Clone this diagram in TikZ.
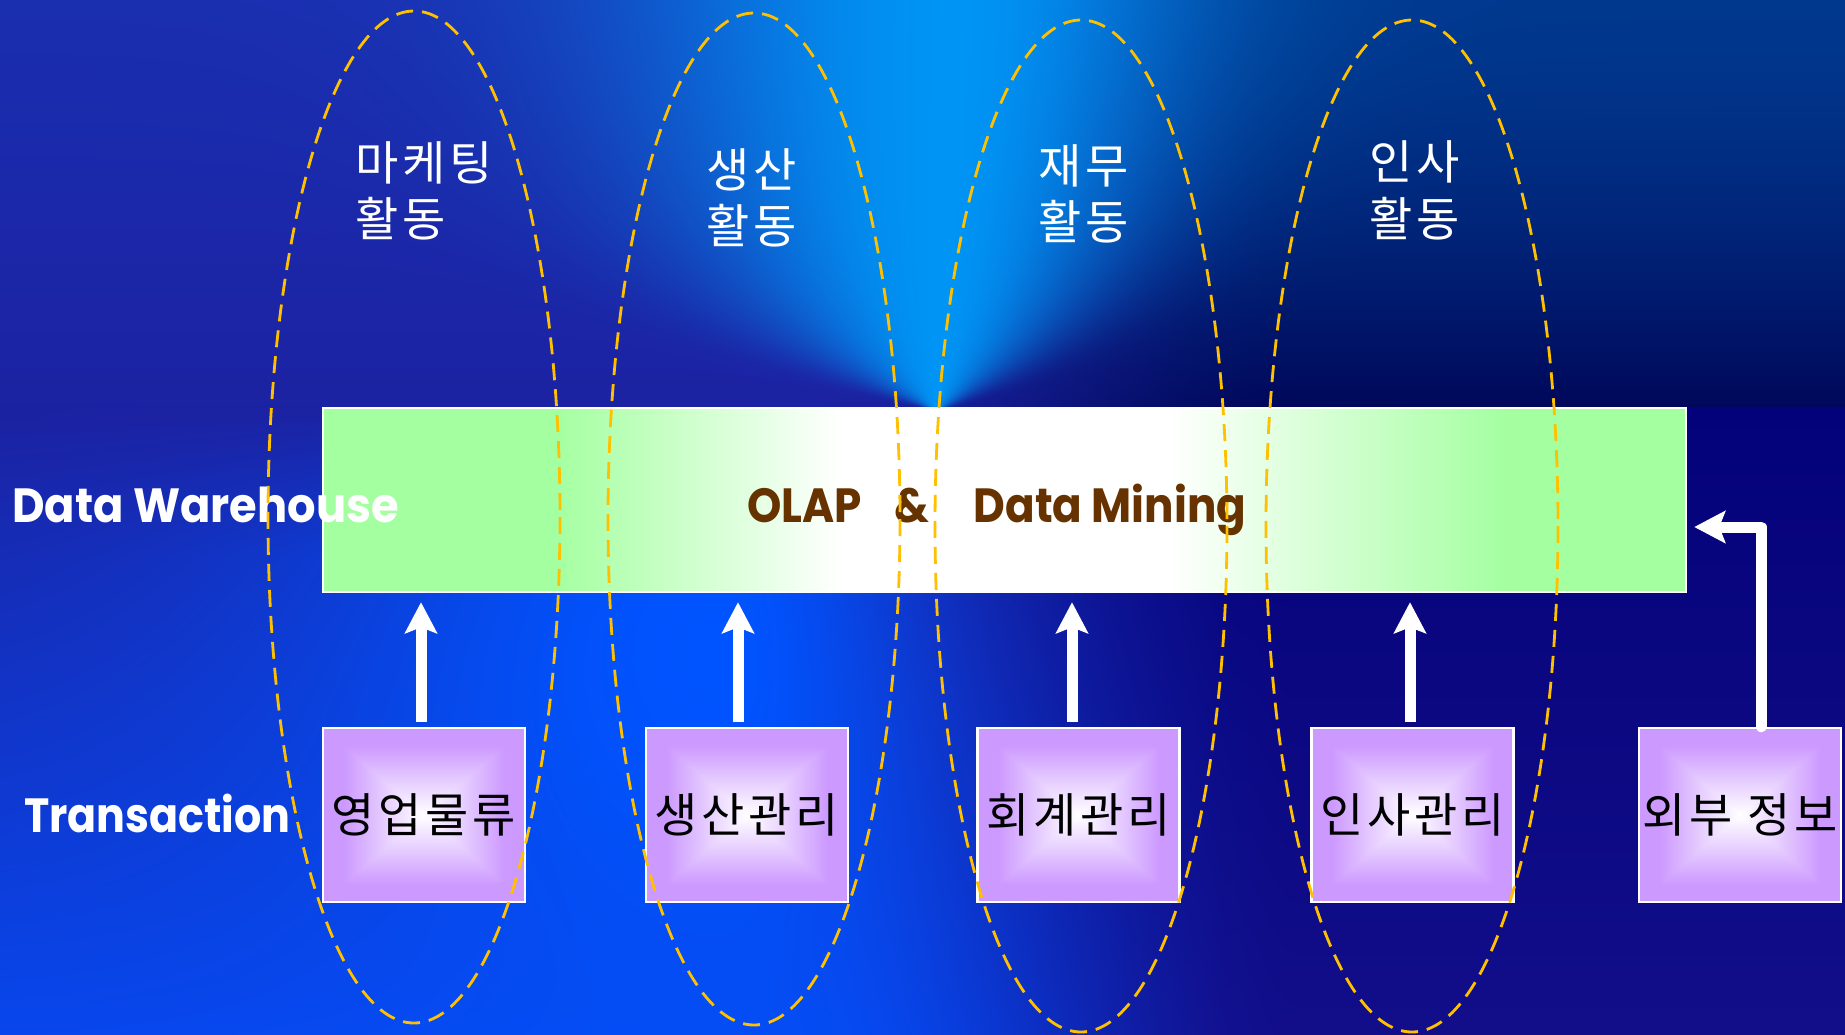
\documentclass[tikz,border=0pt]{standalone}
\usepackage{fontspec}
\usetikzlibrary{arrows.meta}
\newfontfamily\krfont{Noto Sans CJK KR}[LetterSpace=8]
\newfontfamily\gofont{Poppins}[FakeStretch=0.91]
\definecolor{barG}{HTML}{A4FFA0}
\definecolor{gold}{HTML}{FFC000}
\definecolor{brownT}{HTML}{663300}

% ---- PostScript helpers for the background function (note trailing spaces) ----
\def\pszc{dup 1 sub abs neg add 1 add 2 div dup abs add 2 div }
\def\pssm{dup dup mul exch 2 mul 3 exch sub mul }
% #1 L0 #2 L1 #3 L2 #4 R0 #5 R1 #6 R1b #7 R2 #8 spot #9 cone
\def\pschan#1#2#3#4#5#6#7#8#9{ dup 420 div \pszc #2 #1 sub mul #1 add 1 index 420 sub 614 div \pszc #3 #2 sub mul add 1 index 406 div \pszc 1.5 exp #5 #4 sub mul #4 add 2 index 406 sub 628 div \pszc #7 #6 sub mul #6 add 1 index sub 3 index 406 sub \pszc mul add 1 index sub 3 index 820 sub 480 div \pszc \pssm mul add #8 1 index sub 3 index 720 sub dup dup abs 0.01 add div -85 mul 215 add div dup mul 3 index 650 sub 320 div dup mul add -0.5 mul 2.71828 exch exp 3 index 406 sub 150 div \pszc mul mul add #9 1 index sub 2 index 406 exch sub dup dup abs add 2 div 140 div neg 2.71828 exch exp 1 exch sub 5 index 935 sub 2 index 0.05 mul sub dup dup abs 0.01 add div -32.5 mul 202.5 add 3 -1 roll mul 8 add div dup mul -0.5 mul 2.71828 exch exp exch 5 div 1 add \pszc mul mul add 255 div 3 1 roll pop pop }

\pgfdeclarefunctionalshading{bgfun}{\pgfpoint{-50bp}{-50bp}}{\pgfpoint{50bp}{50bp}}{}{ exch 25 add 36.9 mul exch 25 exch sub 20.68 mul 2 copy \pschan{26}{27}{8}{0}{0}{4}{18}{0}{0} 2 index 2 index \pschan{46}{34}{70}{56}{8}{2}{14}{84}{148} 3 index 3 index \pschan{176}{162}{236}{142}{90}{122}{138}{255}{244} 5 3 roll pop pop }

\pgfdeclarehorizontalshading{barsh}{100bp}{color(0bp)=(barG); color(25bp)=(barG); color(33.5bp)=(barG); color(44bp)=(white); color(56bp)=(white); color(68.5bp)=(barG); color(75bp)=(barG); color(100bp)=(barG)}
\pgfdeclarefunctionalshading{boxsh}{\pgfpoint{-50bp}{-50bp}}{\pgfpoint{50bp}{50bp}}{}{abs exch abs 2 copy sub abs add add 2 div 20 div dup 1 sub abs neg add 1 add 2 div dup 0.2 mul 1 exch sub exch 0.4 mul 1 exch sub 1}

\tikzset{
  x=1pt, y=-1pt,
  barbox/.style={draw=white, line width=2.5pt, shade, shading=barsh, minimum width=1363pt, minimum height=184pt, inner sep=0pt},
  txbox/.style={draw=white, line width=2.5pt, shade, shading=boxsh, minimum width=202pt, minimum height=174pt, inner sep=0pt},
  krlabel/.style={font=\krfont\fontsize{47}{56}\selectfont, text=black, inner sep=0pt},
  toplabel/.style={font=\krfont\fontsize{47}{56}\selectfont, text=white, inner sep=0pt, anchor=west},
  bigbold/.style={font=\gofont\bfseries\fontsize{48}{56}\selectfont, inner sep=0pt, anchor=base west},
  uparrow/.style={draw=white, line width=11pt, -{Stealth[length=31pt, width=32pt, inset=6pt]}},
  activity/.style={draw=gold, line width=2.8pt, dash pattern=on 17pt off 9pt},
}

\begin{document}
\begin{tikzpicture}
\useasboundingbox (0,0) rectangle (1845,1034);
% ---------- background ----------
\shade[shading=bgfun] (0,0) rectangle (1845,1034);

% ---------- data warehouse bar ----------
\node[barbox] (bar) at (1004.5,500) {};

% ---------- transaction boxes ----------
\node[txbox] (b1) at (424,815) {};
\node[txbox] (b2) at (747,815) {};
\node[txbox] (b3) at (1078.5,815) {};
\node[txbox] (b4) at (1412.5,815) {};
\node[txbox] (b5) at (1740,815) {};

\node[krlabel] (l1) at (b1) {영업물류};
\node[krlabel] (l2) at (b2) {생산관리};
\node[krlabel] (l3) at (b3) {회계관리};
\node[krlabel] (l4) at (b4) {인사관리};
\node[krlabel] (l5) at (b5) {외부 정보};

% ---------- arrows ----------
\draw[uparrow] ([xshift=-3pt,yshift=5pt]b1.north) -- ([xshift=-3pt,yshift=-9pt]b1.north |- bar.south);
\draw[uparrow] ([xshift=-9pt,yshift=5pt]b2.north) -- ([xshift=-9pt,yshift=-9pt]b2.north |- bar.south);
\draw[uparrow] ([xshift=-6.5pt,yshift=5pt]b3.north) -- ([xshift=-6.5pt,yshift=-9pt]b3.north |- bar.south);
\draw[uparrow] ([xshift=-2.5pt,yshift=5pt]b4.north) -- ([xshift=-2.5pt,yshift=-9pt]b4.north |- bar.south);
\draw[uparrow, line cap=round, line join=round] ([xshift=21pt]b5.north) |- ([xshift=7pt,yshift=-27pt]bar.east);

% ---------- texts ----------
\node[bigbold, text=white] (dw) at (12,522) {\scalebox{1.025}[1]{Data Warehouse}};
\node[bigbold, text=brownT] (olap) at (747,522) {OLAP\hspace{33pt}\&\hspace{44pt}Data Mining};
\node[bigbold, text=white] (tr) at (24,832) {\scalebox{0.98}[1]{Transaction}};

\node[toplabel] (m1) at (355,162.5) {마케팅};
\node[toplabel] (m2) at (355,219) {활동};
\node[toplabel] (p1) at (706,170) {생산};
\node[toplabel] (p2) at (706,225.5) {활동};
\node[toplabel] (f1) at (1038,166) {재무};
\node[toplabel] (f2) at (1038,222) {활동};
\node[toplabel] (h1) at (1369,162) {인사};
\node[toplabel] (h2) at (1369,219) {활동};

% ---------- activity ellipses ----------
\draw[activity] (414,517) ellipse [x radius=146, y radius=506];
\draw[activity] (754,519) ellipse [x radius=146, y radius=506];
\draw[activity] (1081,526) ellipse [x radius=146, y radius=506];
\draw[activity] (1412,526) ellipse [x radius=146, y radius=506];
\end{tikzpicture}
\end{document}
